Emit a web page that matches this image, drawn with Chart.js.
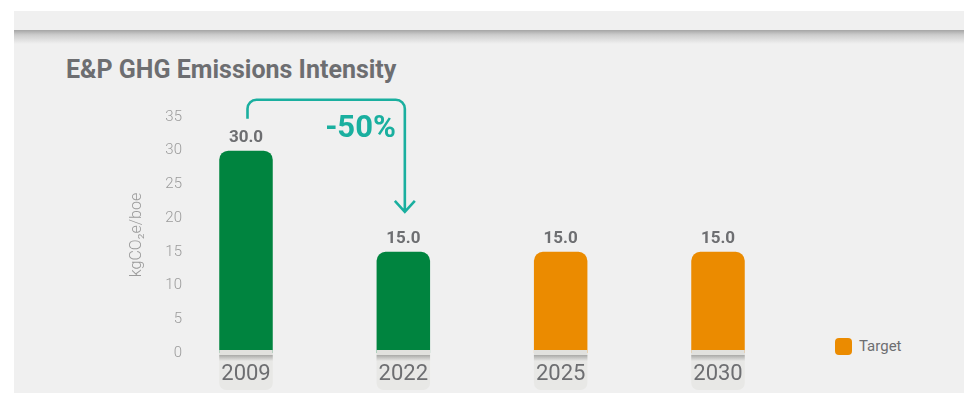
<!DOCTYPE html>
<html>
<head>
<meta charset="utf-8">
<script src="https://cdn.jsdelivr.net/npm/chart.js@4"></script>
<style>
  body { margin: 0; background: #fff; width: 964px; height: 393px; overflow: hidden; position: relative; font-family: Roboto, sans-serif; }
  .panel { position: absolute; left: 14px; top: 11px; width: 960px; height: 420px; background: #f0f0f0; border-bottom-left-radius: 28px; }
  .shade { position: absolute; left: 0; right: 0; top: 19px; height: 14px; background: linear-gradient(#a5a5a5, #cdcdcd 35%, #f0f0f0); }
  h2 { position: absolute; left: 66px; top: 57px; margin: 0; font-size: 25px; line-height: 25px; font-weight: 700; color: #6d6e71; white-space: nowrap; }
  .legend { position: absolute; left: 835px; top: 337px; display: flex; align-items: center; font-size: 15px; color: #6d6e71; }
  .legend span { display: inline-block; width: 17px; height: 17px; border-radius: 4px; margin-right: 7px; }
  canvas { position: absolute; left: 0; top: 0; }
</style>
</head>
<body>
<div class="panel"><div class="shade"></div></div>
<h2>E&amp;P GHG Emissions Intensity</h2>
<div class="legend"><span id="targetSwatch"></span>Target</div>
<canvas id="myChart" width="964" height="393"></canvas>
<script>
let years = ["2009", "2022", "2025", "2030"];
let actual = [30.0, 15.0, null, null];
let target = [null, null, 15.0, 15.0];
let yMax = 35;
let yStep = 5;

const GREEN = "#00843f";
const ORANGE = "#eb8b00";
const TEAL = "#1aaf9f";
const TEXT = "#6d6e71";
const barPct = 0.34;

document.getElementById("targetSwatch").style.background = ORANGE;

// plates under the year labels, value labels and the reduction arrow
const decor = {
	id: "decor",
	afterDatasetsDraw(chart) {
		const ctx = chart.ctx;
		const x = chart.scales.x, y = chart.scales.y;
		const y0 = y.getPixelForValue(0);
		const w = x.width / (years.length - 1) * barPct;
		ctx.save();
		years.forEach((_, i) => {
			const l = x.getPixelForTick(i) - w / 2;
			ctx.fillStyle = "#e8e8e6";
			ctx.beginPath();
			ctx.roundRect(l, y0, w, 37, [0, 0, 7, 7]);
			ctx.fill();
			ctx.fillStyle = "#e1e1de";
			ctx.fillRect(l, y0 - 3, w, 5);
			let g = ctx.createLinearGradient(0, y0 + 2, 0, y0 + 8);
			g.addColorStop(0, "#a9a9a7");
			g.addColorStop(1, "#e8e8e6");
			ctx.fillStyle = g;
			ctx.fillRect(l, y0 + 2, w, 6);
		});

		ctx.font = "bold 17px Roboto";
		ctx.fillStyle = TEXT;
		ctx.textAlign = "center";
		ctx.textBaseline = "alphabetic";
		chart.data.datasets.forEach((ds, di) => {
			chart.getDatasetMeta(di).data.forEach((bar, i) => {
				if (ds.data[i] == null) return;
				ctx.fillText(ds.data[i].toFixed(1), bar.x, bar.y - 9);
			});
		});

		const bars = chart.getDatasetMeta(0).data;
		const a = bars[0], b = bars[1];
		const ax = a.x + 1.5, bx = b.x + 1.5;
		const top = a.y - 51;
		const tip = b.y - 40;
		ctx.strokeStyle = TEAL;
		ctx.lineWidth = 2.6;
		ctx.beginPath();
		ctx.moveTo(ax, a.y - 32);
		ctx.arcTo(ax, top, bx, top, 9);
		ctx.arcTo(bx, top, bx, tip, 9);
		ctx.lineTo(bx, tip);
		ctx.moveTo(bx - 10, tip - 11);
		ctx.lineTo(bx, tip);
		ctx.lineTo(bx + 10, tip - 11);
		ctx.stroke();

		const pct = Math.round((actual[1] - actual[0]) / actual[0] * 100);
		ctx.font = "bold 31px Roboto";
		ctx.fillStyle = TEAL;
		ctx.textAlign = "right";
		ctx.fillText(pct + "%", bx - 9, top + 37);
		ctx.restore();
	}
};

let chart = new Chart("myChart", {
	type: "bar",
	data: {
		labels: years,
		datasets: [{
			label: "Actual",
			data: actual,
			backgroundColor: GREEN,
			borderRadius: 9,
			skipNull: true,
			clip: false,
			categoryPercentage: 1,
			barPercentage: barPct
		}, {
			label: "Target",
			data: target,
			backgroundColor: ORANGE,
			borderRadius: 9,
			skipNull: true,
			clip: false,
			categoryPercentage: 1,
			barPercentage: barPct
		}]
	},
	options: {
		responsive: false,
		animation: false,
		layout: { padding: { top: 117, right: 246, bottom: 0, left: 0 } },
		plugins: {
			legend: { display: false },
			tooltip: { enabled: false }
		},
		scales: {
			x: {
				offset: false,
				grid: { display: false, drawTicks: false },
				border: { display: false },
				ticks: { z: 1, padding: 8, color: TEXT, font: { family: "Roboto", size: 22 } },
				afterFit: s => { s.height = 40; }
			},
			y: {
				min: 0,
				max: yMax,
				grid: { display: false, drawTicks: false },
				border: { display: false },
				ticks: { stepSize: yStep, padding: 64, color: "#9b9b9b", font: { family: "Roboto", size: 15, weight: 300 } },
				title: {
					display: true,
					text: "kgCO₂e/boe",
					color: "#9b9b9b",
					font: { family: "Roboto", size: 16, weight: 300 },
					padding: { top: 127, bottom: 0 }
				},
				afterFit: s => {
					s.width = 246;
					s.paddingTop = 0;
					s.paddingBottom = 0;
				}
			}
		}
	},
	plugins: [decor]
});
</script>
</body>
</html>
